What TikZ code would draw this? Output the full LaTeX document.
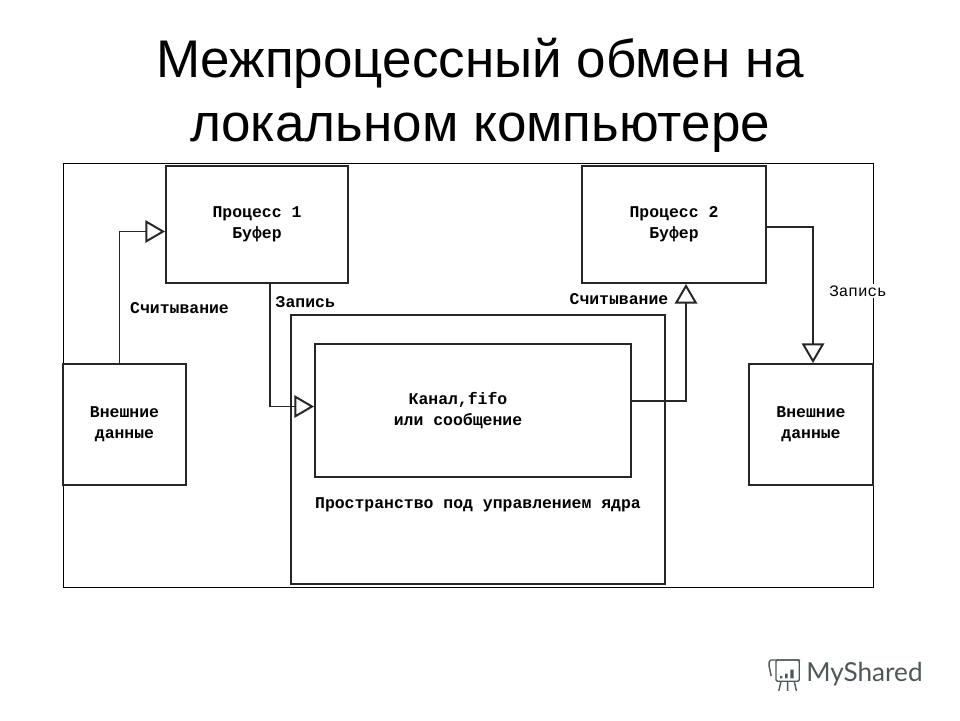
\documentclass[tikz,border=0pt]{standalone}
\usepackage{fontspec}
\setmainfont{Liberation Sans}
\newfontfamily\boxfont{Liberation Mono}
\newfontfamily\brandfont{Lato}
\usetikzlibrary{arrows.meta}
\definecolor{brandgray}{HTML}{4E5859}
\tikzstyle{process} = [
    rectangle,
    line width=1.4pt,
    draw=black!85,
    align=center,
    font=\boxfont\bfseries\fontsize{11.7}{15}\selectfont
]
\tikzstyle{panel} = [
    rectangle,
    minimum width=20.25cm,
    minimum height=10.6cm,
    draw=black,
    line width=0.6pt
]
\tikzstyle{tag} = [
    align=center,
    font=\boxfont\bfseries\fontsize{11.7}{15}\selectfont
]
\tikzstyle{arrow} = [line width=1.4pt,draw=black!85,-{Triangle[open,length=14pt,width=16pt]}]

\begin{document}
\begin{tikzpicture}[node distance=0.5cm]

\useasboundingbox [fill=white] (0,0) rectangle (24,-18);

\node (title) [align=center, font=\fontsize{37.7}{45.5}\selectfont] at (12,-2.39)
{Межпроцессный обмен на\\
локальном компьютере};

\node (frame) [panel] at (11.7,-9.375) {};

\node (proc1) [process, minimum width=4.55cm, minimum height=2.925cm,
    above of=frame, xshift=-5.275cm, yshift=3.2625cm]
{Процесс 1\\
Буфер};

\node (proc2) [process, minimum width=4.6cm, minimum height=2.925cm,
    right of=proc1, xshift=9.925cm]
{Процесс 2\\
Буфер};

\node (ext1) [process, minimum width=3.075cm, minimum height=3.025cm,
    below of=proc1, xshift=-3.3125cm, yshift=-4.5cm]
{Внешние\\
данные};

\node (ext2) [process, minimum width=3.1cm, minimum height=3.025cm,
    below of=proc2, xshift=3.425cm, yshift=-4.5cm]
{Внешние\\
данные};

\node (kernel) [process, minimum width=9.35cm, minimum height=6.725cm,
    below of=frame, xshift=0.25cm, yshift=-1.3625cm] {};

\node (channel) [process, minimum width=7.9cm, minimum height=3.325cm,
    above of=kernel, xshift=-0.125cm, yshift=0.475cm] {};

\node (channelnote) [tag, left of=channel, xshift=0.125cm]
{Канал,fifo\\
или сообщение};

\node (kernelnote) [tag, below of=channel, xshift=0.125cm, yshift=-1.8625cm]
{Пространство под управлением ядра};

\node (writenote) [fill=white, inner sep=1pt, font=\boxfont\fontsize{11.3}{13}\selectfont,
    above of=ext2, xshift=1.175cm, yshift=2.8375cm]
{Запись};

\draw [arrow] ([xshift=-0.125cm]ext1.north) |- node[tag, right, pos=0.21, xshift=0.125cm]{Считывание} ([yshift=-0.175cm]proc1.west);
\draw [arrow] ([xshift=0.325cm]proc1.south) |- node[tag, right, pos=0.073]{Запись} ([yshift=0.1cm]channel.west);
\draw [arrow] ([yshift=0.2375cm]channel.east) -| node[tag, left, pos=0.936, xshift=-0.3cm]{Считывание} ([xshift=0.3cm]proc2.south);
\draw [arrow] ([yshift=-0.0625cm]proc2.east) -| ([xshift=0.05cm]ext2.north);

% logo
\node (brand) [text=brandgray, font=\brandfont\fontsize{18.6}{20}\selectfont, anchor=west, inner sep=0pt] at (20.15,-16.85) {MyShared};
\draw [brandgray, line width=1pt, rounded corners=1pt] (19.4,-16.5) rectangle (19.98,-17.03);
\draw [brandgray, line width=1pt, rounded corners=1pt] (19.28,-16.9) -- (19.22,-16.62) -- (19.24,-16.5) -- (20,-16.5);
\draw [brandgray, line width=1pt] (19.52,-17.05) -- (19.47,-17.27) (19.69,-17.05) -- (19.69,-17.27) (19.86,-17.05) -- (19.91,-17.27);
\fill [brandgray] (19.5,-16.9) rectangle (19.56,-16.96) (19.63,-16.84) rectangle (19.69,-16.96) (19.76,-16.74) rectangle (19.84,-16.96);

\end{tikzpicture}
\end{document}
